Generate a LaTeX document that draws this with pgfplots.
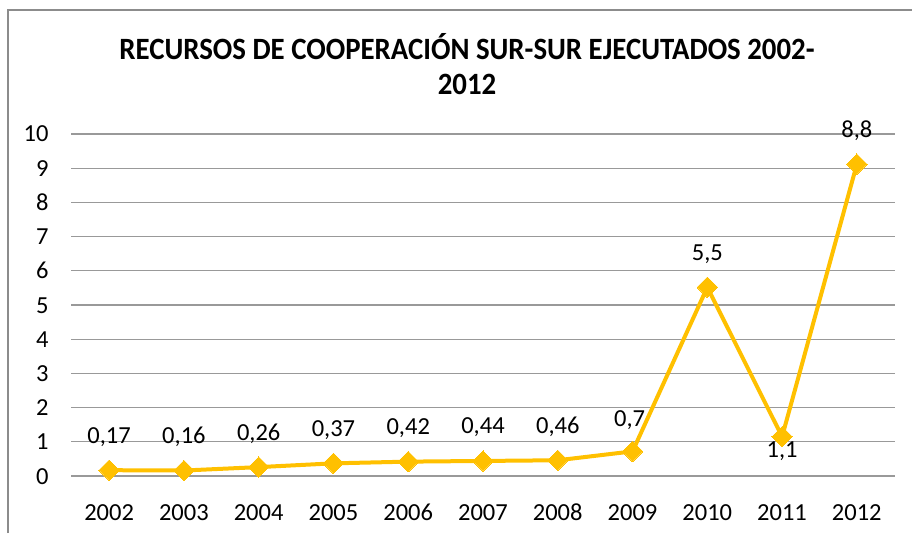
\documentclass[border=0pt]{standalone}
\usepackage{fontspec}
\setmainfont{Carlito}
\usepackage{pgfplots}
\pgfplotsset{compat=1.18}
\definecolor{lineorange}{HTML}{FFC000}
\definecolor{gridgray}{HTML}{999999}
\begin{document}
\begin{tikzpicture}[x=1pt,y=1pt]
\useasboundingbox (0,0) rectangle (912,533);
\draw[color=gray!90, line width=1.5pt] (8,0) -- (8,523) -- (912,523);
\node[anchor=base, font=\bfseries\fontsize{31}{36}\selectfont] at (467,473) {\scalebox{0.93}[1]{RECURSOS DE COOPERACIÓN SUR-SUR EJECUTADOS 2002-}};
\node[anchor=base, font=\bfseries\fontsize{31}{36}\selectfont] at (467,438) {\scalebox{0.93}[1]{2012}};
\begin{axis}[
  at={(71pt,57pt)}, anchor=south west,
  scale only axis, width=824pt, height=342pt,
  xmin=2001.49, xmax=2012.51, ymin=0, ymax=10,
  xtick={2002,...,2012}, ytick={0,...,10},
  /pgf/number format/1000 sep={},
  /pgf/number format/assume math mode=true,
  axis line style={draw=none},
  ymajorgrids, major grid style={gridgray, line width=1.2pt},
  major tick length=0pt,
  tick label style={font=\fontsize{24.5}{28}\selectfont},
  xticklabel style={anchor=base, yshift=-44pt},
  yticklabel style={anchor=base east, xshift=-19pt, yshift=-8pt},
  clip=false,
]
\addplot[lineorange, line width=4pt, mark=square*, mark size=7.2pt,
  mark options={rotate=45, solid, fill=lineorange, draw=lineorange, line width=0pt}]
  coordinates {(2002,0.17) (2003,0.16) (2004,0.26) (2005,0.37) (2006,0.42) (2007,0.44) (2008,0.46) (2009,0.72) (2010,5.52) (2011,1.15) (2012,9.12)};
\addplot[draw=none, mark=none, point meta=explicit symbolic,
  nodes near coords, nodes near coords style={anchor=base, yshift=27pt, inner sep=0pt, font=\fontsize{24.5}{28}\selectfont, text=black}]
  table[meta=lab] {
  x y lab
  2002 0.17 0,17
  2003 0.16 0,16
  2004 0.26 0,26
  2005 0.37 0,37
  2006 0.42 0,42
  2007 0.44 0,44
  2008 0.46 0,46
  2010 5.52 5,5
  2012 9.12 8,8
  };
\addplot[draw=none, mark=none, point meta=explicit symbolic,
  nodes near coords, nodes near coords style={anchor=base, yshift=25pt, xshift=-3pt, inner sep=0pt, font=\fontsize{24.5}{28}\selectfont, text=black}]
  table[meta=lab] {
  x y lab
  2009 0.72 0,7
  };
\addplot[draw=none, mark=none, point meta=explicit symbolic,
  nodes near coords, nodes near coords style={anchor=base, yshift=-21pt, inner sep=0pt, font=\fontsize{24.5}{28}\selectfont, text=black}]
  table[meta=lab] {
  x y lab
  2011 1.15 1,1
  };
\end{axis}
\end{tikzpicture}
\end{document}
